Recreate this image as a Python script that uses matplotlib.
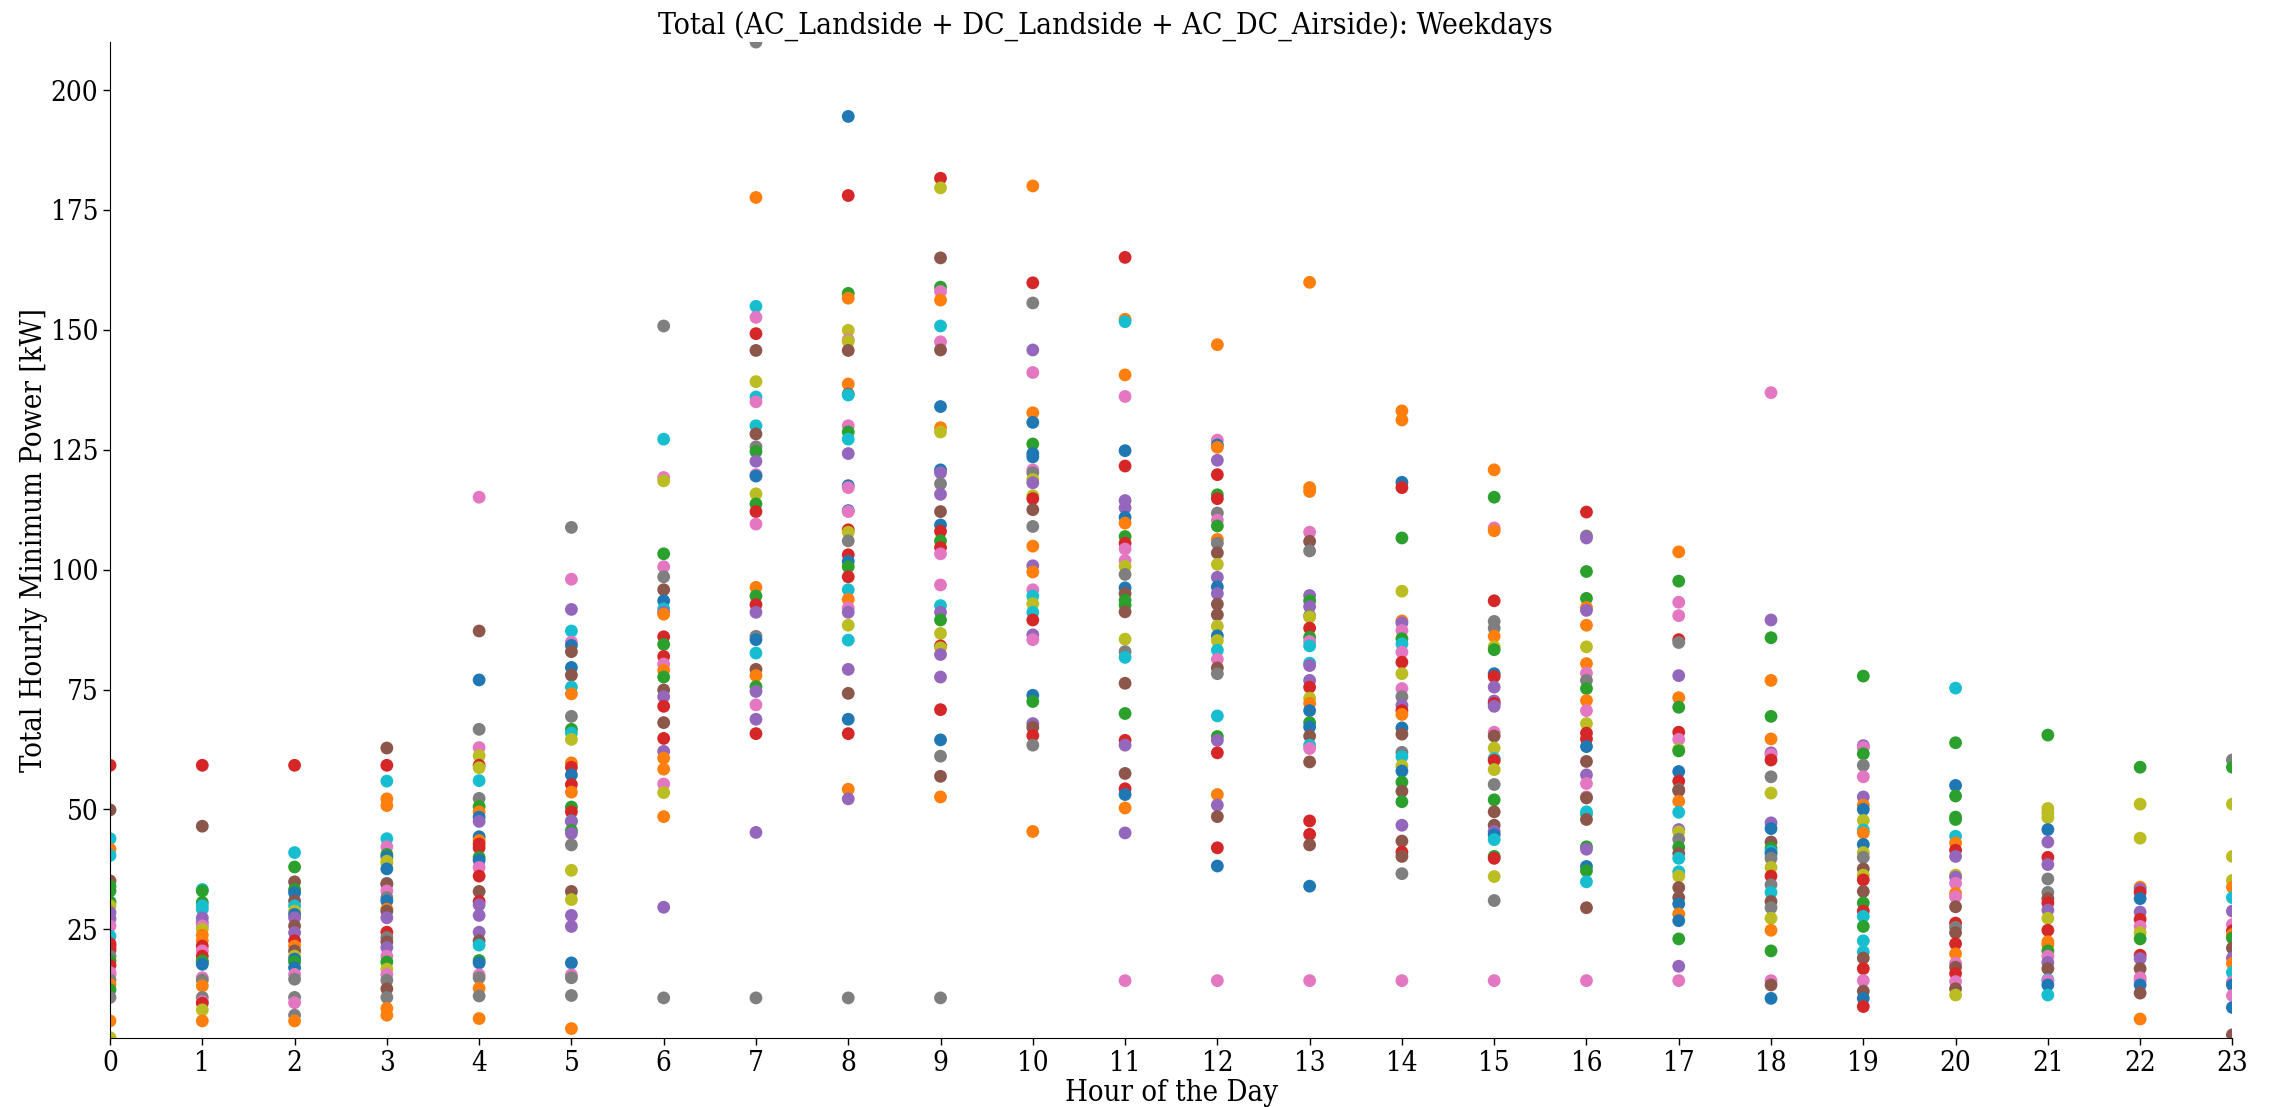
import matplotlib
matplotlib.use("Agg")
import matplotlib.pyplot as plt

# Hourly minimum power readings (kW) per weekday, grouped by hour of day.
# Each hour has a list of values and a matching string of colour codes
# (one character per value) identifying the day series it belongs to.
hours = list(range(24))

h00 = [59.2, 49.9, 43.9, 41.7, 40.4, 35.1, 34.0, 33.0, 30.7, 29.9, 28.5, 27.2, 25.7, 23.6,
       22.0, 21.5, 20.7, 19.4, 18.4, 17.5, 16.0, 15.6, 14.4, 13.5, 12.4, 10.8, 5.9, 2.4]
c00 = "rncocngggl" "ppkcrrragr" "kkaogaol"
h01 = [59.2, 46.5, 33.3, 33.0, 30.6, 29.9, 29.2, 27.4, 26.4, 25.7, 25.0, 23.8, 22.6, 21.5,
       20.5, 19.4, 18.4, 18.1, 17.7, 14.9, 14.4, 13.2, 10.8, 9.9, 9.6, 8.2, 5.9]
c01 = "rncggccppk" "loorkrggbk" "aoakrlo"
h02 = [59.2, 41.0, 38.0, 34.9, 33.3, 32.6, 30.9, 29.9, 28.8, 28.1, 27.4, 25.7, 24.3, 22.6,
       21.5, 20.5, 19.4, 18.8, 18.2, 17.0, 15.6, 14.6, 10.8, 9.7, 7.1, 5.9]
c02 = "rcgngbnclb" "pnpronlbgb" "kaakao"
h03 = [62.8, 59.2, 55.9, 52.2, 50.8, 43.9, 42.2, 40.6, 40.1, 39.2, 38.8, 37.6, 34.6, 34.4,
       33.0, 31.6, 30.9, 29.2, 28.8, 27.4, 24.4, 23.3, 22.4, 21.2, 19.4, 18.2, 16.7, 15.6,
       14.4, 12.6, 10.8, 8.5, 7.1]
c03 = "nrcoockgbl" "lbankabonp" "ranpkglkan" "aoo"
h04 = [115.1, 87.2, 77.0, 66.7, 62.9, 61.2, 59.2, 58.7, 56.0, 52.3, 50.6, 49.5, 48.4, 47.5,
       44.3, 43.5, 42.8, 42.0, 40.0, 39.4, 37.9, 36.1, 32.9, 30.8, 30.1, 27.9, 24.4, 22.6,
       21.7, 18.5, 18.0, 15.5, 14.9, 12.7, 11.1, 6.4]
c04 = "knbaklrlca" "gobpborrgb" "krnrpppncg" "bkaoao"
h05 = [108.8, 98.0, 91.7, 87.2, 84.9, 84.2, 82.9, 79.6, 78.0, 75.5, 74.1, 69.4, 66.7, 65.9,
       64.6, 59.7, 58.8, 57.2, 55.2, 53.6, 50.5, 49.5, 47.6, 47.5, 45.6, 45.0, 42.6, 37.3,
       32.9, 31.2, 27.9, 25.6, 18.0, 15.5, 14.9, 11.2, 4.3]
c05 = "akpckbnbnc" "oagclorbro" "grcpgpalnl" "ppbkaao"
h06 = [150.8, 127.2, 119.2, 118.5, 103.3, 100.6, 98.5, 95.8, 93.5, 91.8, 91.1, 90.7, 86.0,
       84.4, 81.9, 80.3, 79.0, 77.6, 74.9, 73.5, 71.5, 68.1, 64.8, 62.1, 60.7, 58.4, 55.3,
       53.5, 48.5, 29.6, 10.7]
c06 = "acklgkanbc" "porgrkognp" "rnrpooklop" "a"
h07 = [210.0, 177.6, 154.9, 152.6, 149.2, 145.7, 139.2, 136.0, 135.0, 130.0, 128.3, 125.6,
       124.6, 122.6, 119.8, 119.5, 115.8, 113.7, 112.1, 109.5, 96.3, 94.5, 92.7, 91.1, 86.1,
       85.4, 82.6, 79.2, 77.9, 75.6, 74.6, 71.8, 68.8, 65.8, 45.2, 10.7]
c07 = "aockrnlckc" "nagpkblgrk" "ogrpabcnog" "pkprpa"
h08 = [194.5, 178.0, 157.6, 156.6, 149.9, 147.9, 147.6, 145.7, 138.7, 136.6, 136.4, 130.0,
       128.7, 127.2, 124.2, 117.5, 117.1, 112.3, 112.1, 108.3, 107.8, 106.0, 103.1, 101.7,
       100.6, 98.5, 95.8, 93.8, 92.0, 91.1, 88.4, 85.3, 79.2, 74.2, 68.8, 65.8, 54.2, 52.2, 10.7]
c08 = "brgolklnon" "ckgcpbkbkr" "larbgrcokp" "lcpnbropa"
h09 = [181.6, 179.6, 165.0, 158.9, 158.0, 156.2, 150.8, 147.5, 145.8, 134.0, 129.6, 128.7,
       120.8, 120.2, 117.9, 115.7, 112.1, 109.3, 108.0, 106.0, 104.6, 103.3, 96.8, 92.5, 91.1,
       89.5, 86.7, 84.1, 83.7, 82.3, 77.6, 70.8, 64.5, 61.1, 56.9, 52.6, 10.7]
c09 = "rlngkocknb" "olbpapnbrg" "rkkcpglrlp" "prbanoa"
h10 = [180.0, 159.8, 155.6, 145.8, 141.1, 132.7, 130.7, 126.2, 124.2, 123.5, 120.8, 120.2,
       118.8, 118.1, 115.4, 114.8, 112.5, 109.0, 104.9, 100.8, 99.5, 95.8, 94.5, 92.9, 91.1,
       89.5, 86.4, 85.4, 73.8, 72.5, 67.9, 67.1, 65.4, 63.4, 45.4]
c10 = "orapkobgbb" "kalplrnaop" "okclcrpkbg" "pnrao"
h11 = [165.1, 152.2, 151.7, 140.6, 136.1, 124.8, 121.6, 114.4, 112.9, 110.9, 109.7, 106.9,
       105.5, 104.3, 101.9, 100.7, 99.0, 96.2, 95.0, 93.6, 92.6, 91.2, 85.5, 82.9, 81.7, 76.3,
       70.0, 64.4, 63.4, 57.5, 54.3, 53.1, 50.3, 45.1, 14.3]
c11 = "rocokbrppb" "ogrkklabng" "gnlacngrpn" "rbopk"
h12 = [146.9, 127.0, 126.0, 125.5, 122.8, 119.8, 115.6, 114.8, 111.8, 110.3, 109.1, 106.3,
       105.5, 103.5, 101.1, 98.4, 96.4, 95.0, 92.8, 90.6, 88.2, 86.2, 85.2, 83.2, 81.3, 79.5,
       78.3, 69.5, 65.2, 64.4, 61.8, 53.1, 50.9, 48.5, 42.0, 38.2, 14.3]
c12 = "okboprgrak" "goanlpbpnn" "lblcknacgp" "ropnrbk"
h13 = [159.9, 117.1, 116.3, 107.8, 105.9, 103.9, 94.6, 93.5, 92.3, 90.4, 90.1, 87.8, 85.9,
       85.0, 84.1, 80.5, 80.0, 76.9, 75.5, 73.2, 72.1, 70.6, 68.1, 67.2, 65.3, 63.4, 62.7,
       59.9, 47.6, 44.8, 42.6, 34.0, 14.3]
c13 = "oooknapgpa" "lrgkccpprl" "obgbncknrr" "nbk"
h14 = [133.1, 131.2, 118.2, 117.1, 106.6, 95.5, 89.3, 88.9, 87.3, 85.6, 84.5, 82.8, 80.7,
       78.3, 75.2, 73.5, 71.7, 70.6, 69.8, 67.0, 65.7, 61.9, 61.0, 59.1, 58.0, 55.7, 53.8,
       51.6, 46.7, 43.4, 41.1, 40.2, 36.6, 14.3]
c14 = "oobrglopkg" "ckrlkaprob" "naclbgngpn" "rnak"
h15 = [120.8, 115.1, 108.7, 108.1, 93.5, 89.2, 87.8, 86.1, 83.9, 83.3, 78.3, 77.7, 75.5,
       72.6, 72.1, 71.5, 66.1, 65.3, 62.8, 60.6, 60.2, 58.3, 55.2, 52.0, 49.5, 46.7, 45.4,
       44.7, 43.7, 40.2, 39.8, 36.0, 31.0, 14.3]
c15 = "ogkoraaolg" "brpprpknlc" "rlagnnpbcg" "rlak"
h16 = [112.0, 107.0, 106.6, 99.6, 94.0, 92.1, 91.5, 88.4, 83.9, 80.4, 78.4, 76.9, 75.2,
       72.7, 70.6, 67.9, 65.9, 64.7, 63.1, 60.0, 57.2, 55.4, 52.6, 52.4, 49.5, 49.0, 47.9,
       42.2, 41.7, 38.1, 37.2, 34.9, 29.5, 14.3]
c16 = "rapggopolo" "kagoklrrbn" "pkknccngpb" "gcnk"
h17 = [103.7, 97.6, 93.2, 90.4, 85.4, 84.8, 77.9, 73.3, 71.3, 66.1, 64.6, 62.5, 62.2, 57.9,
       55.9, 54.1, 53.9, 51.7, 49.4, 45.8, 45.3, 43.8, 42.1, 40.8, 39.8, 37.0, 36.1, 33.7,
       31.6, 30.3, 28.2, 26.8, 23.0, 17.3, 14.3]
c17 = "ogkkrapogr" "klgbranocp" "lagncclnnb" "obgpk"
h18 = [136.9, 89.5, 85.8, 76.9, 69.4, 64.7, 61.8, 61.4, 60.3, 56.8, 53.4, 47.2, 46.0, 43.2,
       41.9, 41.2, 40.8, 39.8, 37.9, 36.1, 34.3, 32.7, 30.8, 29.5, 27.3, 24.8, 20.5, 14.3,
       13.4, 10.6]
c18 = "kpgogopkra" "lpbngcbalr" "acnalogknb"
h19 = [77.8, 63.3, 62.9, 61.6, 59.2, 56.8, 52.6, 50.9, 50.0, 47.7, 45.7, 45.1, 42.7, 41.0,
       40.0, 37.6, 36.3, 35.3, 32.9, 30.5, 28.8, 27.7, 25.6, 22.6, 20.3, 19.0, 16.8, 14.3,
       12.1, 10.6, 8.9]
c19 = "gpkgakpobl" "coblanlrng" "rcgccnrknb" "r"
h20 = [75.3, 63.9, 55.0, 52.8, 48.4, 47.9, 44.4, 43.0, 41.5, 40.2, 36.3, 35.9, 34.6, 32.5,
       31.8, 29.7, 26.3, 25.4, 24.3, 22.0, 19.9, 17.9, 17.1, 15.8, 14.1, 12.6, 11.3]
c20 = "cgbgggcorp" "lpkoknranr" "oknrknl"
h21 = [65.5, 50.2, 49.3, 48.3, 45.8, 43.2, 40.0, 38.5, 35.5, 32.7, 31.4, 30.5, 29.0, 27.3,
       24.8, 22.4, 21.8, 20.5, 19.4, 18.1, 16.8, 14.5, 14.3, 13.4, 11.3]
c21 = "glllbprpaa" "nrplroogkp" "nckbc"
h22 = [58.8, 51.1, 44.0, 33.8, 33.4, 32.7, 31.4, 28.6, 27.1, 25.6, 24.3, 23.0, 19.6, 18.9,
       16.8, 14.9, 14.3, 13.4, 11.7, 6.3]
c22 = "glloprbprk" "lgrpnkkbno"
h23 = [60.3, 58.8, 51.1, 40.2, 35.2, 33.8, 31.6, 28.8, 26.0, 24.7, 23.9, 23.2, 21.1, 19.0,
       17.9, 16.0, 14.0, 13.4, 11.2, 8.7, 3.0]
c23 = "aglllocpkr" "ognpockbkb" "n"

values_by_hour = [h00, h01, h02, h03, h04, h05, h06, h07, h08, h09, h10, h11,
                  h12, h13, h14, h15, h16, h17, h18, h19, h20, h21, h22, h23]
codes_by_hour = [c00, c01, c02, c03, c04, c05, c06, c07, c08, c09, c10, c11,
                 c12, c13, c14, c15, c16, c17, c18, c19, c20, c21, c22, c23]

palette = {
    "b": "tab:blue", "o": "tab:orange", "g": "tab:green", "r": "tab:red",
    "p": "tab:purple", "n": "tab:brown", "k": "tab:pink", "a": "tab:gray",
    "l": "tab:olive", "c": "tab:cyan",
}

title = "Total (AC_Landside + DC_Landside + AC_DC_Airside): Weekdays"
x_label = "Hour of the Day"
y_label = "Total Hourly Minimum Power [kW]"

plt.rcParams["font.family"] = ["DejaVu Serif"]
plt.rcParams["font.stretch"] = "condensed"

fig = plt.figure(figsize=(22.92, 11.07), dpi=100)
ax = fig.add_axes([0.048, 0.0626, 0.926, 0.8994])

for h, vals, codes in zip(hours, values_by_hour, codes_by_hour):
    ax.scatter([h] * len(vals), vals, c=[palette[ch] for ch in codes],
               s=85, linewidths=0, zorder=2)

all_vals = [v for vals in values_by_hour for v in vals]
ax.set_xlim(min(hours), max(hours))
ax.set_ylim(min(all_vals), max(all_vals))
ax.set_xticks(hours)
ax.set_yticks([25, 50, 75, 100, 125, 150, 175, 200])

ax.spines["top"].set_visible(False)
ax.spines["right"].set_visible(False)
ax.tick_params(axis="both", labelsize=20, length=5, width=1, direction="out")

ax.set_xlabel(x_label, fontsize=21, labelpad=2)
ax.set_ylabel(y_label, fontsize=21, labelpad=2)
ax.set_title(title, fontsize=21.6, x=0.469, pad=5)

fig.savefig("out.png", dpi=100)
